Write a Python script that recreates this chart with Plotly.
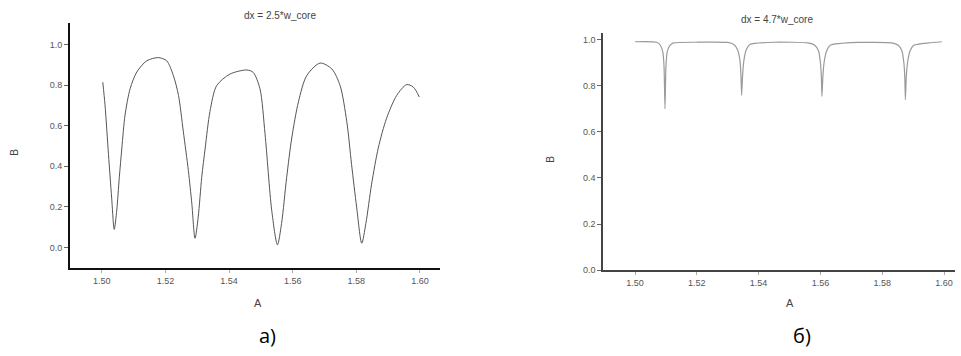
import plotly.graph_objects as go

# Left panel (a): dx = 2.5*w_core
a_x = [1.5003, 1.5010, 1.5021, 1.5031, 1.5039, 1.5047, 1.5055, 1.5063, 1.5073, 1.5089,
       1.5110, 1.5141, 1.5178, 1.5204, 1.5225, 1.5241, 1.5256, 1.5272, 1.5283, 1.5293,
       1.5303, 1.5314, 1.5325, 1.5340, 1.5361, 1.5403, 1.5456, 1.5476, 1.5497, 1.5513,
       1.5534, 1.5552, 1.5565, 1.5581, 1.5597, 1.5618, 1.5644, 1.5686, 1.5723, 1.5749,
       1.5770, 1.5785, 1.5801, 1.5817, 1.5830, 1.5848, 1.5869, 1.5895, 1.5927, 1.5958,
       1.5979, 1.5998]
a_y = [0.814, 0.703, 0.457, 0.243, 0.089, 0.184, 0.345, 0.490, 0.652, 0.782,
       0.864, 0.919, 0.935, 0.919, 0.846, 0.749, 0.573, 0.379, 0.215, 0.045,
       0.150, 0.345, 0.490, 0.670, 0.797, 0.854, 0.874, 0.862, 0.782, 0.560,
       0.184, 0.013, 0.118, 0.345, 0.539, 0.717, 0.846, 0.908, 0.879, 0.797,
       0.620, 0.409, 0.199, 0.021, 0.118, 0.312, 0.490, 0.636, 0.749, 0.802,
       0.790, 0.741]

# Right panel (б): dx = 4.7*w_core
b_x = [1.5000, 1.5070, 1.5082, 1.5090, 1.5094, 1.5097, 1.5100, 1.5104, 1.5112, 1.5125,
       1.5200, 1.5300, 1.5320, 1.5332, 1.5340, 1.5343, 1.5345, 1.5348, 1.5352, 1.5360,
       1.5372, 1.5450, 1.5560, 1.5582, 1.5594, 1.5600, 1.5603, 1.5605, 1.5608, 1.5612,
       1.5620, 1.5632, 1.5720, 1.5830, 1.5852, 1.5864, 1.5870, 1.5873, 1.5875, 1.5878,
       1.5882, 1.5890, 1.5902, 1.5950, 1.5993]
b_y = [0.990, 0.988, 0.975, 0.945, 0.880, 0.700, 0.880, 0.945, 0.972, 0.985,
       0.988, 0.987, 0.978, 0.955, 0.905, 0.840, 0.758, 0.840, 0.905, 0.955,
       0.978, 0.988, 0.985, 0.975, 0.950, 0.900, 0.840, 0.753, 0.840, 0.900,
       0.950, 0.975, 0.987, 0.985, 0.975, 0.950, 0.900, 0.840, 0.739, 0.840,
       0.900, 0.950, 0.975, 0.985, 0.990]

y_ticks = [0.0, 0.2, 0.4, 0.6, 0.8, 1.0]
x_ticks = [1.50, 1.52, 1.54, 1.56, 1.58, 1.60]

W, H = 961, 356
def px(x):
    return x / W
def py(y):
    return 1 - y / H

fig = go.Figure()
fig.add_trace(go.Scatter(x=a_x, y=a_y, mode="lines", xaxis="x", yaxis="y",
                         line=dict(color="#555555", width=1, shape="spline", smoothing=0.8),
                         showlegend=False))
fig.add_trace(go.Scatter(x=b_x, y=b_y, mode="lines", xaxis="x2", yaxis="y2",
                         line=dict(color="#9a9a9a", width=1.2, shape="spline", smoothing=0.5),
                         showlegend=False))

tickfont = dict(family="Liberation Sans, Arial", size=9, color="#555555")
common_x = dict(tickvals=x_ticks, ticktext=[f"{v:.2f}" for v in x_ticks], ticks="outside",
                ticklen=3, tickcolor="#aaaaaa", tickfont=tickfont, showgrid=False,
                zeroline=False, showline=True)
common_y = dict(tickvals=y_ticks, ticktext=[f"{v:.1f}" for v in y_ticks], ticks="outside",
                ticklen=4, tickcolor="#666666", tickfont=tickfont, showgrid=False,
                zeroline=False, showline=True)

fig.update_layout(
    width=W, height=H, margin=dict(l=0, r=0, t=0, b=0),
    paper_bgcolor="white", plot_bgcolor="white",
    xaxis=dict(domain=[px(70), px(440)], range=[1.4900, 1.6063], anchor="y",
               linecolor="#111111", linewidth=2, **common_x),
    yaxis=dict(domain=[py(272), py(23)], range=[-0.102, 1.107], anchor="x",
               linecolor="#111111", linewidth=2, **common_y),
    xaxis2=dict(domain=[px(603), px(955)], range=[1.48964, 1.60356], anchor="y2",
                linecolor="#444444", linewidth=1.5, **common_x),
    yaxis2=dict(domain=[py(274), py(33)], range=[0, 1.03], anchor="x2",
                linecolor="#444444", linewidth=1.5, **common_y),
)

lab = dict(family="Liberation Sans, Arial", size=10, color="#444444")
ann = [
    dict(text="dx = 2.5*w_core", x=px(280), y=py(16), font=lab),
    dict(text="dx = 4.7*w_core", x=px(777), y=py(20), font=lab),
    dict(text="A", x=px(258), y=py(307), font=dict(family="Liberation Sans, Arial", size=11, color="#444444")),
    dict(text="A", x=px(790), y=py(307), font=dict(family="Liberation Sans, Arial", size=11, color="#444444")),
    dict(text="B", x=px(15), y=py(155), textangle=-90, font=lab),
    dict(text="B", x=px(551), y=py(162), textangle=-90, font=lab),
    dict(text="а)", x=px(267), y=py(340), font=dict(family="Open Sans, Noto Sans", size=20, color="#000000")),
    dict(text="б)", x=px(802), y=py(340), font=dict(family="Open Sans, Noto Sans", size=20, color="#000000")),
]
for a in ann:
    fig.add_annotation(xref="paper", yref="paper", showarrow=False,
                       xanchor="center", yanchor="middle", **a)

fig.write_html("out.html", config={"displayModeBar": False},
               post_script="document.body.style.margin='0';document.body.style.overflow='hidden';")
